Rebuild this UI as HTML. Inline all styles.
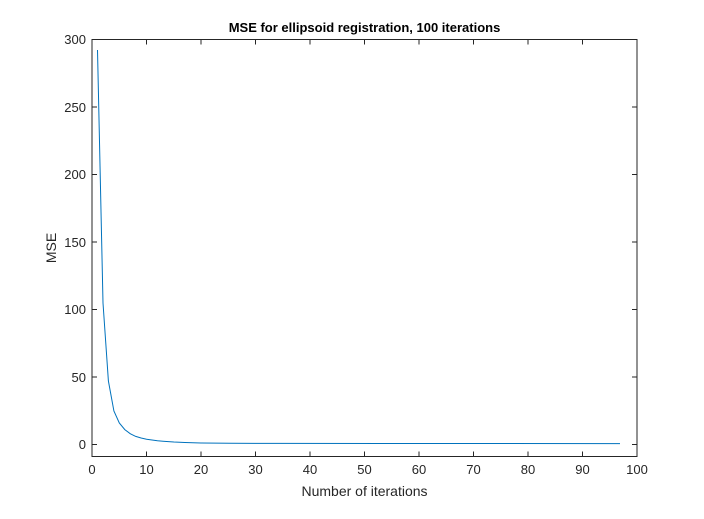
<!DOCTYPE html>
<html><head><style>body{margin:0;background:#fff}</style></head><body>
<svg width="704" height="514" xmlns="http://www.w3.org/2000/svg" font-family="Liberation Sans, Arial, sans-serif">
<rect width="704" height="514" fill="#fff"/>
<rect x="92" y="39.5" width="545" height="417" fill="#fff" stroke="#262626" stroke-width="1"/>
<g stroke="#262626" stroke-width="1">
<line x1="92" y1="444.5" x2="97" y2="444.5"/><line x1="637" y1="444.5" x2="632" y2="444.5"/>
<line x1="92" y1="377" x2="97" y2="377"/><line x1="637" y1="377" x2="632" y2="377"/>
<line x1="92" y1="309.5" x2="97" y2="309.5"/><line x1="637" y1="309.5" x2="632" y2="309.5"/>
<line x1="92" y1="242" x2="97" y2="242"/><line x1="637" y1="242" x2="632" y2="242"/>
<line x1="92" y1="174.5" x2="97" y2="174.5"/><line x1="637" y1="174.5" x2="632" y2="174.5"/>
<line x1="92" y1="107" x2="97" y2="107"/><line x1="637" y1="107" x2="632" y2="107"/>
<line x1="146.5" y1="456.5" x2="146.5" y2="451.5"/><line x1="201" y1="456.5" x2="201" y2="451.5"/>
<line x1="255.5" y1="456.5" x2="255.5" y2="451.5"/><line x1="310" y1="456.5" x2="310" y2="451.5"/>
<line x1="364.5" y1="456.5" x2="364.5" y2="451.5"/><line x1="419" y1="456.5" x2="419" y2="451.5"/>
<line x1="473.5" y1="456.5" x2="473.5" y2="451.5"/><line x1="528" y1="456.5" x2="528" y2="451.5"/>
<line x1="582.5" y1="456.5" x2="582.5" y2="451.5"/>
<line x1="146.5" y1="39.5" x2="146.5" y2="44.5"/><line x1="201" y1="39.5" x2="201" y2="44.5"/>
<line x1="255.5" y1="39.5" x2="255.5" y2="44.5"/><line x1="310" y1="39.5" x2="310" y2="44.5"/>
<line x1="364.5" y1="39.5" x2="364.5" y2="44.5"/><line x1="419" y1="39.5" x2="419" y2="44.5"/>
<line x1="473.5" y1="39.5" x2="473.5" y2="44.5"/><line x1="528" y1="39.5" x2="528" y2="44.5"/>
<line x1="582.5" y1="39.5" x2="582.5" y2="44.5"/>
</g>
<g font-size="13" fill="#262626" text-anchor="end">
<text x="86" y="449">0</text><text x="86" y="382">50</text><text x="86" y="314">100</text>
<text x="86" y="247">150</text><text x="86" y="179">200</text><text x="86" y="112">250</text><text x="86" y="44">300</text>
</g>
<g font-size="13" fill="#262626" text-anchor="middle">
<text x="92" y="474">0</text><text x="146.5" y="474">10</text><text x="201" y="474">20</text><text x="255.5" y="474">30</text>
<text x="310" y="474">40</text><text x="364.5" y="474">50</text><text x="419" y="474">60</text><text x="473.5" y="474">70</text>
<text x="528" y="474">80</text><text x="582.5" y="474">90</text><text x="637" y="474">100</text>
</g>
<text x="364.5" y="496" font-size="14" fill="#262626" text-anchor="middle">Number of iterations</text>
<text x="56" y="248" font-size="14" fill="#262626" text-anchor="middle" transform="rotate(-90 56 248)">MSE</text>
<text x="364.5" y="32" font-size="13" font-weight="bold" fill="#000" text-anchor="middle">MSE for ellipsoid registration, 100 iterations</text>
<polyline fill="none" stroke="#0072bd" stroke-width="1" points="97.5,50 103,303 108.4,381 113.9,411 119.3,423 124.8,429.6 130.2,433.7 135.7,436.4 141.1,438 146.6,439.2 152,440 157.5,440.7 163,441.2 168.4,441.6 173.9,442 184.8,442.5 201,443 230,443.3 280,443.4 400,443.5 620,443.6"/>
</svg>
</body></html>
